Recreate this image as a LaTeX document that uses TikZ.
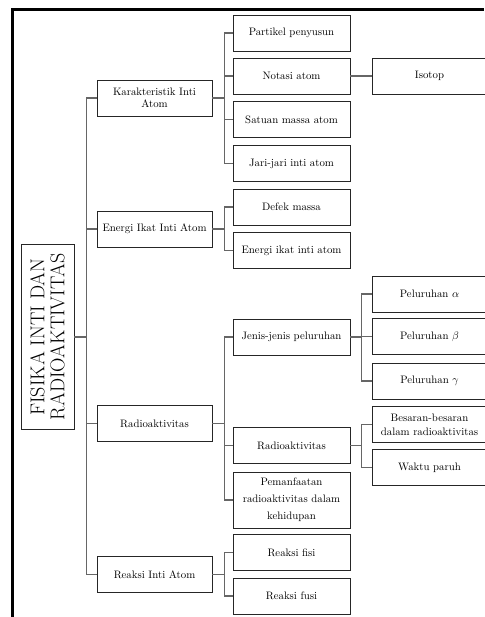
\documentclass[tikz,border=0pt]{standalone}
\usepackage{tikz}
\begin{document}
\begin{tikzpicture}[x=1pt, y=-1pt,
    box/.style={draw=black!85, fill=white, line width=0.8pt, minimum height=36pt,
      inner sep=1pt, align=center, font=\fontsize{10.8}{12}\selectfont},
    one/.style={box, minimum width=115pt},
    two/.style={box, minimum width=117pt},
    three/.style={box, minimum width=115pt},
    link/.style={draw=black!60, line width=1.2pt}]
      \useasboundingbox (0,0) rectangle (484,617);
      \draw[line width=3.5pt, black] (12.5,617) -- (12.5,9.5) -- (484,9.5);

      \node[box, rotate=90, minimum width=185pt, minimum height=53pt,
        font=\fontsize{20}{20}\selectfont] (root) at (47.5,337) {FISIKA INTI DAN\\RADIOAKTIVITAS};

      \node[one] (kar) at (154.5,98) {Karakteristik Inti\\Atom};
      \node[one] (eik) at (154.5,229) {Energi Ikat Inti Atom};
      \node[one] (rad) at (154.5,423.5) {Radioaktivitas};
      \node[one] (rea) at (154.5,574.5) {Reaksi Inti Atom};

      \node[two] (par) at (291.5,33) {Partikel penyusun};
      \node[two] (not) at (291.5,76) {Notasi atom};
      \node[two] (sat) at (291.5,119.5) {Satuan massa atom};
      \node[two] (jar) at (291.5,163.5) {Jari-jari inti atom};
      \node[two] (def) at (291.5,207) {Defek massa};
      \node[two] (eit) at (291.5,250.5) {Energi ikat inti atom};
      \node[two] (jen) at (291.5,337) {Jenis-jenis peluruhan};
      \node[two] (rdk) at (291.5,445.5) {Radioaktivitas};
      \node[two, minimum height=56pt, font=\fontsize{10.8}{17}\selectfont] (pem) at (291.5,500)
        {Pemanfaatan\\radioaktivitas dalam\\kehidupan};
      \node[two] (fis) at (291.5,552.5) {Reaksi fisi};
      \node[two] (fus) at (291.5,596) {Reaksi fusi};

      \node[three] (iso) at (429.5,76) {Isotop};
      \node[three] (alf) at (429.5,294) {Peluruhan $\alpha$};
      \node[three] (bet) at (429.5,336.5) {Peluruhan $\beta$};
      \node[three] (gam) at (429.5,381) {Peluruhan $\gamma$};
      \node[three, font=\fontsize{10.8}{14}\selectfont] (bes) at (429.5,424.5) {Besaran-besaran\\dalam radioaktivitas};
      \node[three] (wak) at (429.5,467.5) {Waktu paruh};

      \foreach \c in {kar,eik,rad,rea}
        \draw[link] (root.south) -- ++(12,0) |- (\c.west);
      \foreach \c in {par,not,sat,jar}
        \draw[link] (kar.east) -- ++(12,0) |- (\c.west);
      \foreach \c in {def,eit}
        \draw[link] (eik.east) -- ++(12,0) |- (\c.west);
      \foreach \c in {jen,rdk,pem}
        \draw[link] (rad.east) -- ++(12,0) |- (\c.west);
      \foreach \c in {fis,fus}
        \draw[link] (rea.east) -- ++(12,0) |- (\c.west);
      \draw[link] (not.east) -- (iso.west);
      \foreach \c in {alf,bet,gam}
        \draw[link] (jen.east) -- ++(11,0) |- (\c.west);
      \foreach \c in {bes,wak}
        \draw[link] (rdk.east) -- ++(11,0) |- (\c.west);

    \end{tikzpicture}
\end{document}
